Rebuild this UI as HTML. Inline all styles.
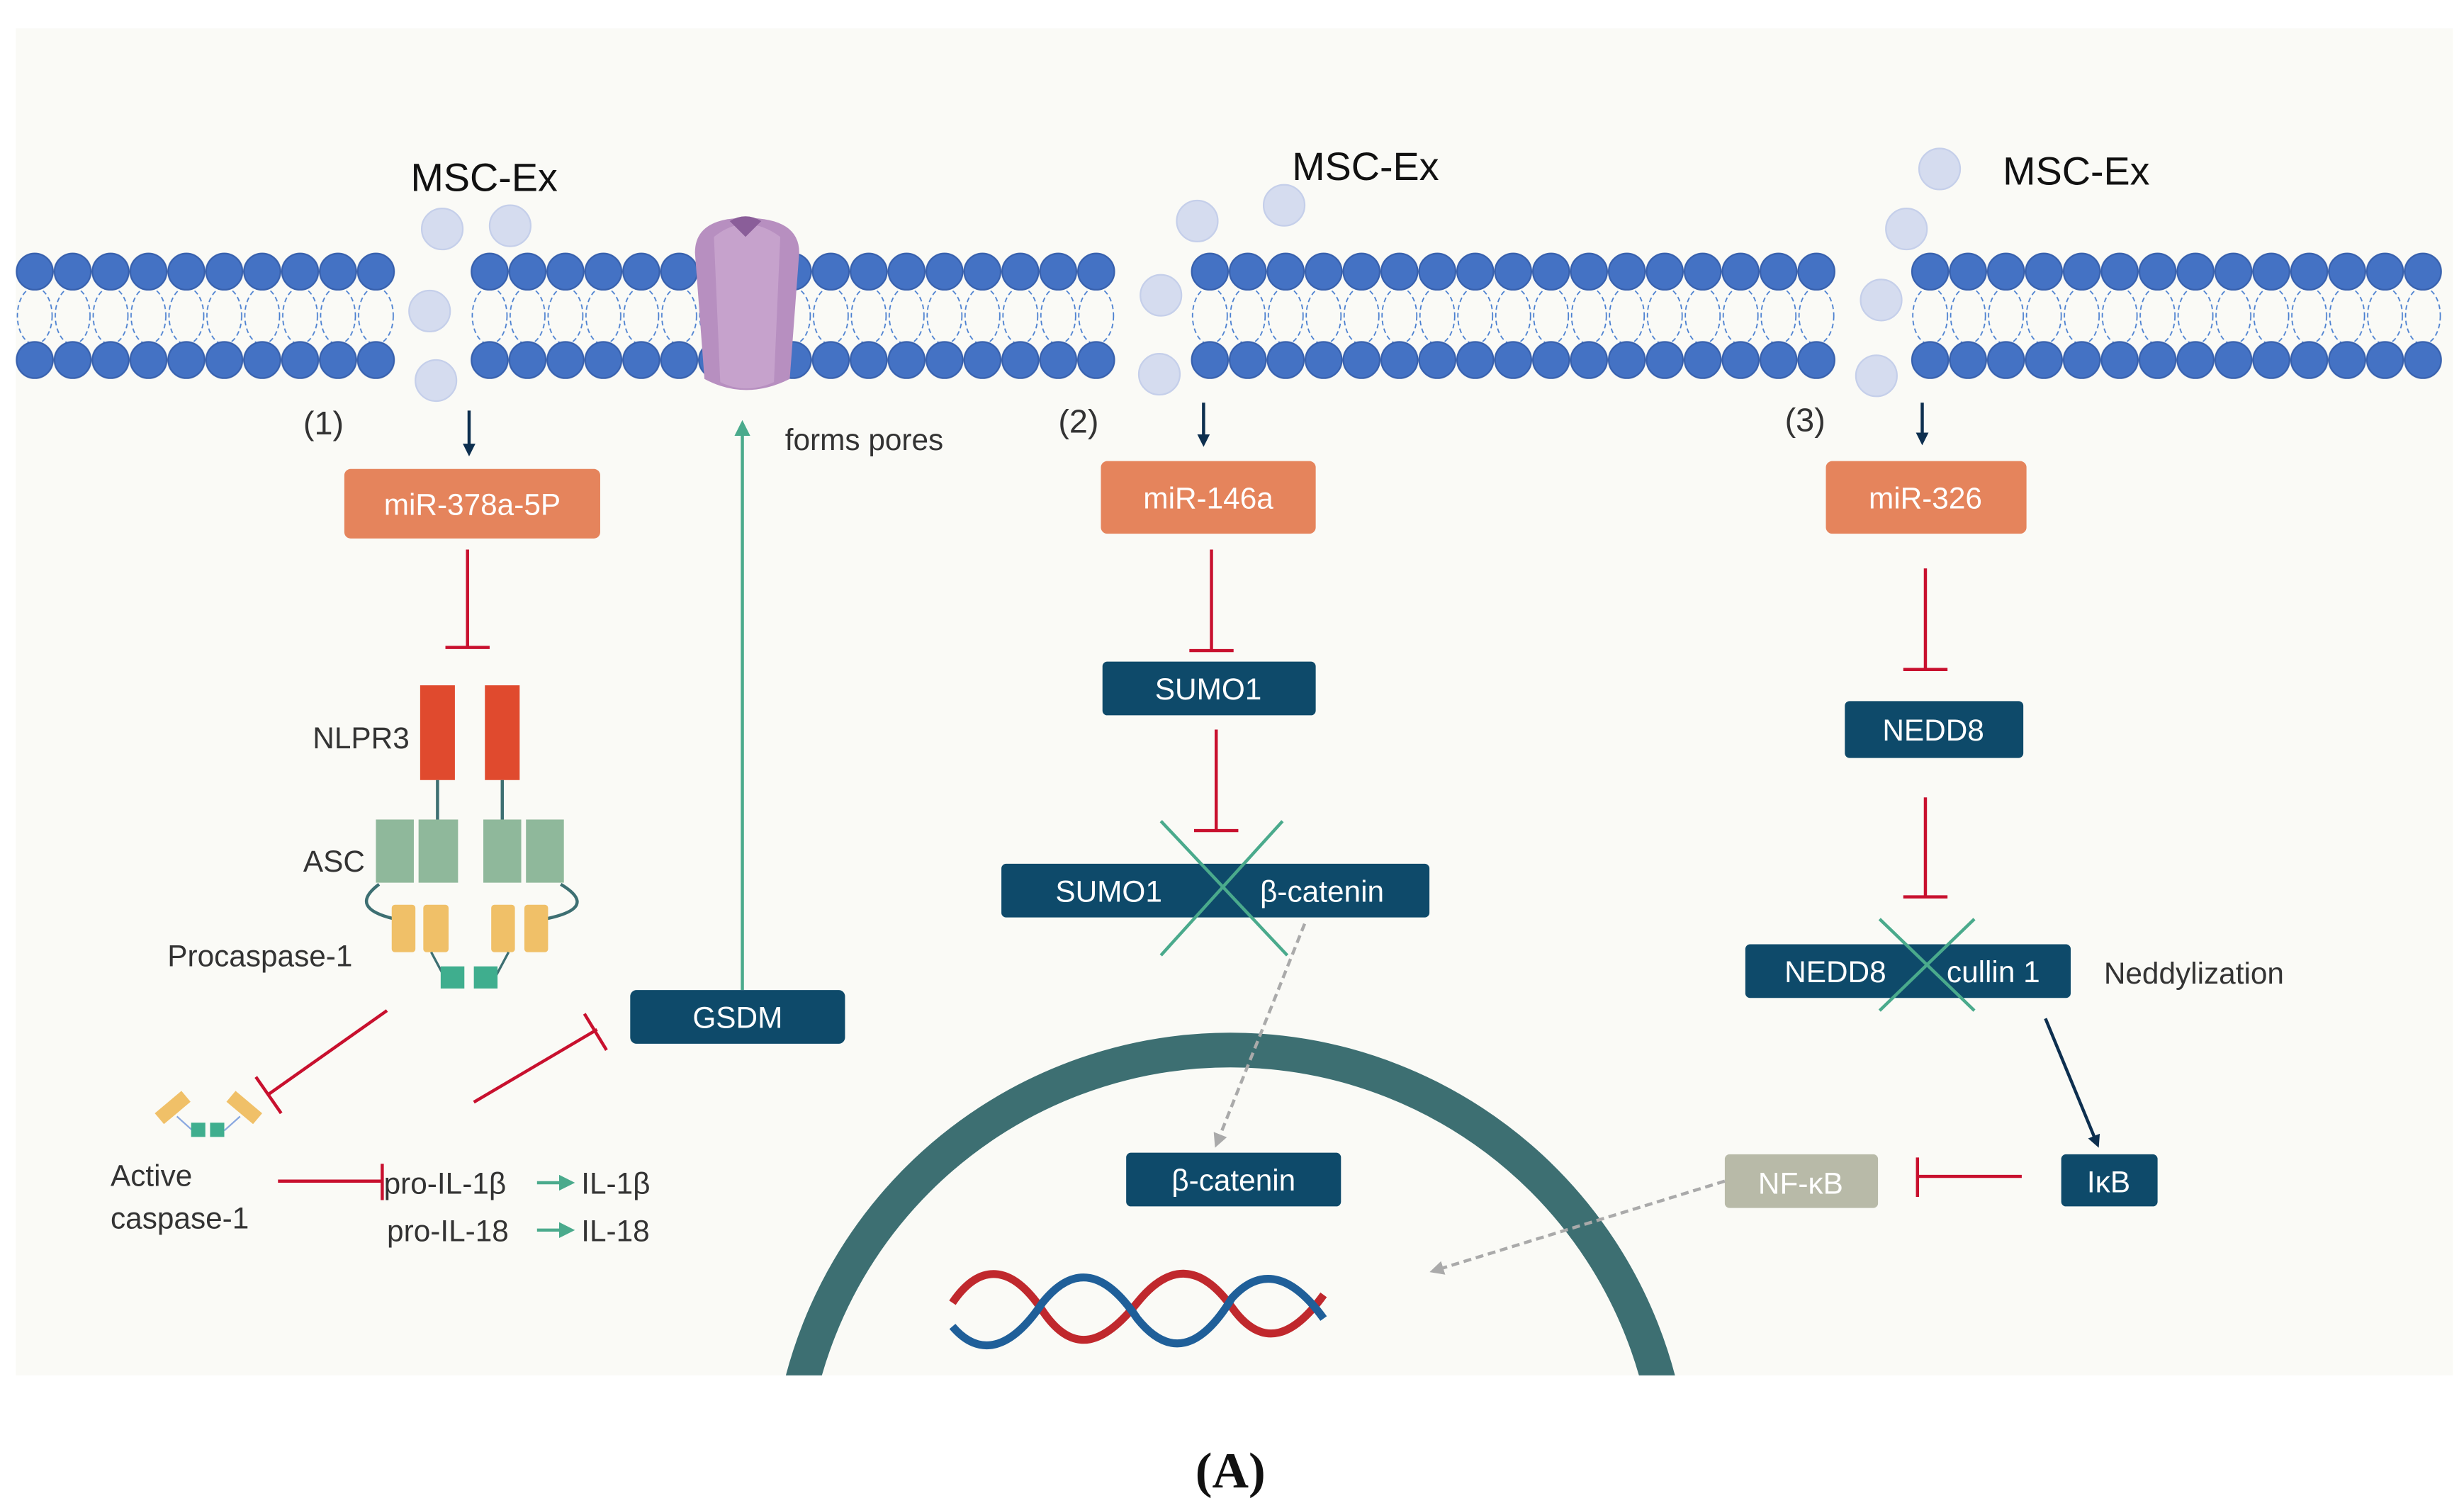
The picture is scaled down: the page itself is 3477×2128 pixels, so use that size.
<!DOCTYPE html>
<html><head><meta charset="utf-8"><style>
html,body{margin:0;padding:0;background:#fff;width:3477px;height:2128px;overflow:hidden}
svg{display:block}
text{font-family:"Liberation Sans","DejaVu Sans",sans-serif}
</style></head><body>
<svg width="3477" height="2128" viewBox="0 0 1560 955" preserveAspectRatio="none" xmlns="http://www.w3.org/2000/svg">
<defs>
<pattern id="lip" patternUnits="userSpaceOnUse" x="10" y="158" width="24" height="84">
<ellipse cx="12" cy="42" rx="11" ry="18" fill="none" stroke="#4a7fd0" stroke-width="0.8" stroke-dasharray="3,2"/>
<circle cx="12" cy="14" r="11.5" fill="#4472c4" stroke="#3760ad" stroke-width="1"/>
<circle cx="12" cy="70" r="11.5" fill="#4472c4" stroke="#3760ad" stroke-width="1"/>
</pattern>
<marker id="an" markerWidth="8" markerHeight="8" refX="6" refY="4" orient="auto" markerUnits="userSpaceOnUse"><path d="M0,0 L8,4 L0,8 z" fill="#0d2f4f"/></marker>
<marker id="ag" markerWidth="10" markerHeight="10" refX="8" refY="5" orient="auto" markerUnits="userSpaceOnUse"><path d="M0,0 L10,5 L0,10 z" fill="#4aaa8c"/></marker>
<marker id="ay" markerWidth="9" markerHeight="9" refX="7" refY="4.5" orient="auto" markerUnits="userSpaceOnUse"><path d="M0,0 L9,4.5 L0,9 z" fill="#aaa"/></marker>
<clipPath id="cl"><rect x="0" y="0" width="1560" height="871"/></clipPath>
</defs>
<rect x="10" y="18" width="1543" height="853" fill="#fafaf6"/>
<g fill="url(#lip)">
<rect x="10" y="158" width="240" height="84"/>
<rect x="298" y="158" width="408" height="84"/>
<rect x="754" y="158" width="408" height="84"/>
<rect x="1210" y="158" width="336" height="84"/>
</g>
<!-- pore -->
<g>
<path d="M440,160 Q440,138 472,138 Q506,138 506,160 L500,240 Q472,254 446,240 Z" fill="#b78fc0"/>
<path d="M452,150 Q472,134 494,150 L490,242 Q472,250 456,242 Z" fill="#c6a2cc"/>
<path d="M462,140 L472,150 L482,140 Q472,134 462,140Z" fill="#8a5e99"/>
</g>
<!-- exosomes -->
<g fill="#d5dcef" stroke="#c5cfea">
<circle cx="280" cy="145" r="13"/><circle cx="323" cy="143" r="13"/><circle cx="272" cy="197" r="13"/><circle cx="276" cy="241" r="13"/>
<circle cx="758" cy="140" r="13"/><circle cx="813" cy="130" r="13"/><circle cx="735" cy="187" r="13"/><circle cx="734" cy="237" r="13"/>
<circle cx="1228" cy="107" r="13"/><circle cx="1207" cy="145" r="13"/><circle cx="1191" cy="190" r="13"/><circle cx="1188" cy="238" r="13"/>
</g>
<g font-size="25" fill="#111">
<text x="260" y="121">MSC-Ex</text><text x="818" y="114">MSC-Ex</text><text x="1268" y="117">MSC-Ex</text>
</g>
<g font-size="21" fill="#333">
<text x="192" y="275">(1)</text><text x="670" y="274">(2)</text><text x="1130" y="273">(3)</text>
<text x="497" y="285" font-size="19">forms pores</text>
</g>
<g stroke="#0d2f4f" stroke-width="2" marker-end="url(#an)">
<line x1="297" y1="260" x2="297" y2="287"/><line x1="762" y1="255" x2="762" y2="281"/><line x1="1217" y1="255" x2="1217" y2="280"/>
</g>
<g fill="#e5845c">
<rect x="218" y="297" width="162" height="44" rx="4"/><rect x="697" y="292" width="136" height="46" rx="4"/><rect x="1156" y="292" width="127" height="46" rx="4"/>
</g>
<g fill="#fff" font-size="19" text-anchor="middle">
<text x="299" y="326">miR-378a-5P</text><text x="765" y="322">miR-146a</text><text x="1219" y="322">miR-326</text>
</g>
<g stroke="#c8102e" stroke-width="2" fill="none">
<path d="M296,348 V410 M282,410 H310"/>
<path d="M767,348 V412 M753,412 H781"/>
<path d="M770,462 V526 M756,526 H784"/>
<path d="M1219,360 V424 M1205,424 H1233"/>
<path d="M1219,505 V568 M1205,568 H1233"/>
<path d="M245,640 L170,693 M162,682 L178,705"/>
<path d="M300,698 L378,652 M370,642 L384,665"/>
<path d="M176,748 H242 M242,737 V760"/>
<path d="M1280,745 H1214 M1214,733 V758"/>
</g>
<g fill="#e04a2e"><rect x="266" y="434" width="22" height="60"/><rect x="307" y="434" width="22" height="60"/></g>
<g stroke="#3d6f72" stroke-width="2"><line x1="277" y1="494" x2="277" y2="520"/><line x1="318" y1="494" x2="318" y2="520"/></g>
<path d="M240,560 Q220,575 250,582 M355,560 Q380,575 345,582" stroke="#3d6f72" stroke-width="2" fill="none"/>
<g fill="#8fb89b"><rect x="238" y="519" width="24" height="40"/><rect x="265" y="519" width="25" height="40"/><rect x="306" y="519" width="24" height="40"/><rect x="333" y="519" width="24" height="40"/></g>
<g fill="#f0c068"><rect x="248" y="573" width="15" height="30" rx="2"/><rect x="268" y="573" width="16" height="30" rx="2"/><rect x="311" y="573" width="15" height="30" rx="2"/><rect x="332" y="573" width="15" height="30" rx="2"/></g>
<path d="M273,603 L281,618 M322,603 L314,618" stroke="#3d6f72" stroke-width="1.5"/>
<g fill="#3fae8e"><rect x="279" y="612" width="15" height="14"/><rect x="300" y="612" width="15" height="14"/></g>
<g font-size="19" fill="#333">
<text x="198" y="474">NLPR3</text><text x="192" y="552">ASC</text><text x="106" y="612">Procaspase-1</text>
<text x="70" y="751">Active</text><text x="70" y="778">caspase-1</text>
<text x="243" y="756">pro-IL-1β</text><text x="368" y="756">IL-1β</text>
<text x="245" y="786">pro-IL-18</text><text x="368" y="786">IL-18</text>
</g>
<g fill="#f0c068"><rect x="98" y="697" width="22" height="9" transform="rotate(-40 109 701)"/><rect x="144" y="697" width="22" height="9" transform="rotate(40 155 701)"/></g>
<path d="M112,707 L122,716 M152,707 L142,716" stroke="#8aa8e0" stroke-width="1"/>
<g fill="#3fae8e"><rect x="121" y="711" width="9" height="9"/><rect x="133" y="711" width="9" height="9"/></g>
<g stroke="#4aaa8c" stroke-width="2" marker-end="url(#ag)"><line x1="340" y1="749" x2="362" y2="749"/><line x1="340" y1="779" x2="362" y2="779"/></g>
<line x1="470" y1="627" x2="470" y2="268" stroke="#4aaa8c" stroke-width="2" marker-end="url(#ag)"/>
<circle cx="779" cy="945" r="280" fill="none" stroke="#3d6f72" stroke-width="22" clip-path="url(#cl)"/>
<g fill="#0e4a6a">
<rect x="399" y="627" width="136" height="34" rx="4"/>
<rect x="698" y="419" width="135" height="34" rx="3"/>
<rect x="634" y="547" width="271" height="34" rx="3"/>
<rect x="713" y="730" width="136" height="34" rx="3"/>
<rect x="1168" y="444" width="113" height="36" rx="3"/>
<rect x="1105" y="598" width="206" height="34" rx="3"/>
<rect x="1305" y="731" width="61" height="33" rx="3"/>
</g>
<rect x="1092" y="731" width="97" height="34" rx="3" fill="#b8baa8"/>
<g fill="#fff" font-size="19" text-anchor="middle">
<text x="467" y="651">GSDM</text><text x="765" y="443">SUMO1</text>
<text x="702" y="571">SUMO1</text><text x="837" y="571">β-catenin</text>
<text x="781" y="754">β-catenin</text><text x="1224" y="469">NEDD8</text>
<text x="1162" y="622">NEDD8</text><text x="1262" y="622">cullin 1</text>
<text x="1335" y="755">IκB</text><text x="1140" y="756">NF-κB</text>
</g>
<g stroke="#4aaa8c" stroke-width="2"><line x1="735" y1="520" x2="815" y2="605"/><line x1="812" y1="520" x2="735" y2="605"/>
<line x1="1190" y1="582" x2="1250" y2="640"/><line x1="1250" y1="582" x2="1190" y2="640"/></g>
<text x="1332" y="623" font-size="19" fill="#333">Neddylization</text>
<line x1="1295" y1="645" x2="1328" y2="725" stroke="#0d2f4f" stroke-width="2" marker-end="url(#an)"/>
<g stroke="#aaa" stroke-width="2" stroke-dasharray="5,3" marker-end="url(#ay)">
<line x1="826" y1="585" x2="770" y2="725"/><line x1="1092" y1="748" x2="907" y2="805"/>
</g>
<path d="M603,825 C620,800 640,800 660,830 C680,860 700,850 720,825 C740,800 760,800 780,828 C800,856 820,845 838,820" stroke="#c0282d" stroke-width="5" fill="none"/>
<path d="M603,840 C620,860 640,855 660,825 C680,800 700,805 720,835 C740,860 760,855 780,822 C800,800 820,810 838,835" stroke="#1f5f99" stroke-width="5" fill="none"/>
<text x="779" y="942" font-size="32" font-weight="bold" text-anchor="middle" style="font-family:'Liberation Serif',serif" fill="#111">(A)</text>
</svg>
</body></html>
